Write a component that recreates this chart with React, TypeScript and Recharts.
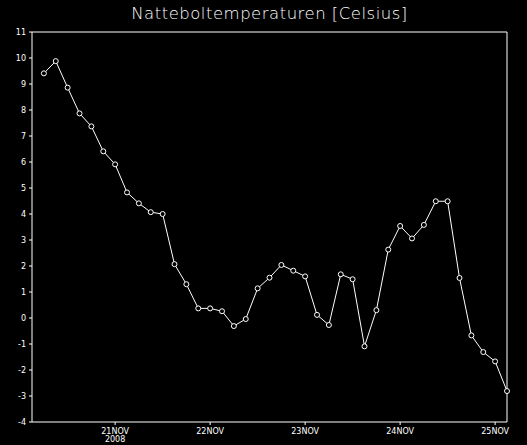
import { LineChart, Line, XAxis, YAxis, ReferenceLine } from "recharts";

// hours counted from 20NOV 03:00, every 3 hours
const hours = [
  3, 6, 9, 12, 15, 18, 21, 24, 27, 30, 33, 36, 39, 42, 45, 48, 51, 54, 57, 60,
  63, 66, 69, 72, 75, 78, 81, 84, 87, 90, 93, 96, 99, 102, 105, 108, 111, 114, 117, 120,
];

const temps = [
  9.41, 9.88, 8.86, 7.87, 7.37, 6.41, 5.91, 4.83, 4.41, 4.07, 4.0, 2.07, 1.3, 0.37,
  0.37, 0.26, -0.31, -0.04, 1.14, 1.55, 2.04, 1.82, 1.6, 0.12, -0.27, 1.68, 1.49,
  -1.09, 0.3, 2.63, 3.54, 3.06, 3.58, 4.49, 4.49, 1.54, -0.67, -1.31, -1.67, -2.81,
];

const dayTicks = [21, 45, 69, 93, 117];
const dayLabels = ["21NOV", "22NOV", "23NOV", "24NOV", "25NOV"];
const yearLabel = "2008";
const yTicks = [-4, -3, -2, -1, 0, 1, 2, 3, 4, 5, 6, 7, 8, 9, 10, 11];

const data = hours.map((h, i) => ({ h, t: temps[i] }));

const FG = "#ffffff";
const tickFont = "'DejaVu Sans', sans-serif";

const DayTick = (props: any) => {
  const { x, y, index } = props;
  return (
    <g>
      <text x={x} y={y + 7} textAnchor="middle" fill={FG} fontSize={8} fontFamily={tickFont}>
        {dayLabels[index]}
      </text>
      {index === 0 && (
        <text x={x} y={y + 15} textAnchor="middle" fill={FG} fontSize={8} fontFamily={tickFont}>
          {yearLabel}
        </text>
      )}
    </g>
  );
};

export default function App() {
  return (
    <div
      style={{
        position: "fixed",
        left: 0,
        top: 0,
        width: 527,
        height: 445,
        background: "#000",
      }}
    >
      <div
        style={{
          position: "absolute",
          left: 0,
          top: 4,
          width: 539,
          textAlign: "center",
          color: FG,
          fontFamily: "'DejaVu Sans', sans-serif",
          fontWeight: 200,
          fontSize: 16.5,
          letterSpacing: 0.5,
        }}
      >
        Natteboltemperaturen [Celsius]
      </div>
      <LineChart
        width={527}
        height={445}
        data={data}
        margin={{ top: 32, right: 20, left: 0, bottom: 0 }}
      >
        <XAxis
          dataKey="h"
          type="number"
          domain={[0, 120]}
          ticks={dayTicks}
          interval={0}
          height={23}
          stroke={FG}
          tickSize={3}
          tick={<DayTick />}
        />
        <YAxis
          type="number"
          domain={[-4, 11]}
          ticks={yTicks}
          interval={0}
          width={32}
          stroke={FG}
          tickSize={3}
          tickMargin={3}
          tick={{ fill: FG, fontSize: 8, fontFamily: tickFont }}
        />
        <ReferenceLine y={11} stroke={FG} />
        <ReferenceLine x={120} stroke={FG} />
        <Line
          type="linear"
          dataKey="t"
          stroke={FG}
          strokeWidth={1}
          dot={{ r: 2.5, fill: "#000", stroke: FG, strokeWidth: 1 }}
          isAnimationActive={false}
        />
      </LineChart>
    </div>
  );
}
